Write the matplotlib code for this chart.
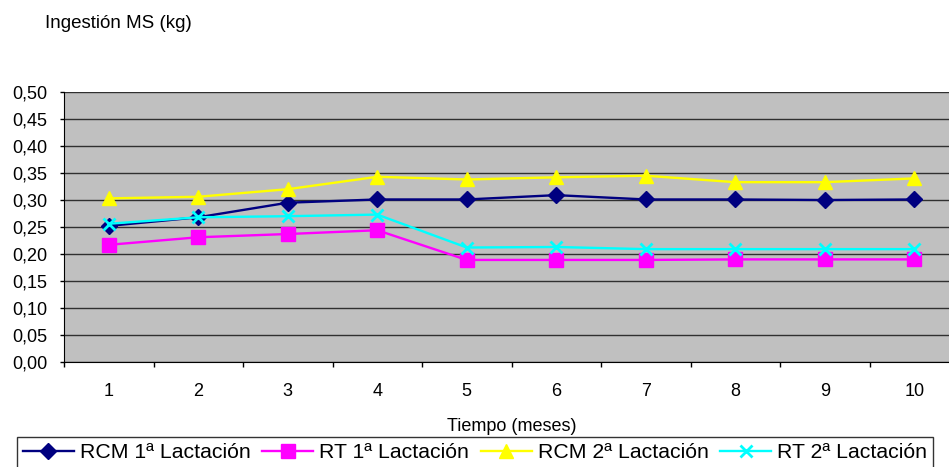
import matplotlib.pyplot as plt
import numpy as np
from matplotlib.ticker import FuncFormatter, FixedLocator

plt.rcParams['font.family'] = ['Liberation Sans', 'DejaVu Sans']

meses = [1, 2, 3, 4, 5, 6, 7, 8, 9, 10]
rcm_1 = [0.252, 0.268, 0.295, 0.301, 0.301, 0.309, 0.301, 0.301, 0.300, 0.301]
rt_1 = [0.217, 0.231, 0.237, 0.244, 0.189, 0.189, 0.189, 0.190, 0.190, 0.190]
rcm_2 = [0.303, 0.306, 0.320, 0.343, 0.338, 0.342, 0.345, 0.333, 0.333, 0.340]
rt_2 = [0.256, 0.268, 0.270, 0.273, 0.212, 0.213, 0.209, 0.209, 0.209, 0.209]

fig = plt.figure(figsize=(9.49, 4.67), dpi=100)
ax = fig.add_axes([64 / 949, 105 / 467, 895 / 949, 270 / 467])
ax.set_facecolor('#c0c0c0')

ax.plot(meses, rcm_1, color='#000080', marker='D', markersize=8.5, lw=1.7, label='RCM 1ª Lactación', zorder=3)
ax.plot(meses, rt_1, color='#ff00ff', marker='s', markersize=9.5, lw=1.7, label='RT 1ª Lactación', zorder=3)
ax.plot(meses, rcm_2, color='#ffff00', marker='^', markersize=10, lw=1.7, label='RCM 2ª Lactación', zorder=3)
ax.plot(meses, rt_2, color='#00ffff', marker='x', markersize=9, mew=2, lw=1.7, label='RT 2ª Lactación', zorder=4)

ax.set_xlim(0.5, 10.5)
ax.set_ylim(0, 0.5)
ax.set_yticks(np.arange(0, 0.501, 0.05))
ax.yaxis.set_major_formatter(FuncFormatter(lambda v, p: ('%.2f' % v).replace('.', ',')))
ax.grid(axis='y', color='#303030', lw=1)
ax.set_axisbelow(True)

ax.set_xticks(meses)
ax.tick_params(axis='x', length=0, pad=15, labelsize=13)
ax.xaxis.set_minor_locator(FixedLocator(np.arange(0.5, 11, 1)))
ax.tick_params(axis='x', which='minor', length=3.5, width=1, direction='out')
ax.tick_params(axis='y', length=3, width=1, direction='out', labelsize=13, pad=9)

for s in ['top', 'right']:
    ax.spines[s].set_visible(False)
ax.spines['left'].set_color('black')
ax.spines['bottom'].set_color('black')

ax.set_xlabel('Tiempo (meses)', fontsize=13, labelpad=13)
fig.text(45 / 949, 1 - 24 / 467, 'Ingestión MS (kg)', fontsize=13.5, va='center', ha='left')

leg = fig.legend(loc='upper left', bbox_to_anchor=(17 / 949, 1 - 437 / 467),
                 ncol=4, fontsize=15.3, frameon=True, fancybox=False,
                 edgecolor='black', handlelength=2.4, handletextpad=0.28, columnspacing=0.55,
                 borderpad=0.28, borderaxespad=0)
leg.get_frame().set_linewidth(1)

fig.savefig('out.png', dpi=100)
